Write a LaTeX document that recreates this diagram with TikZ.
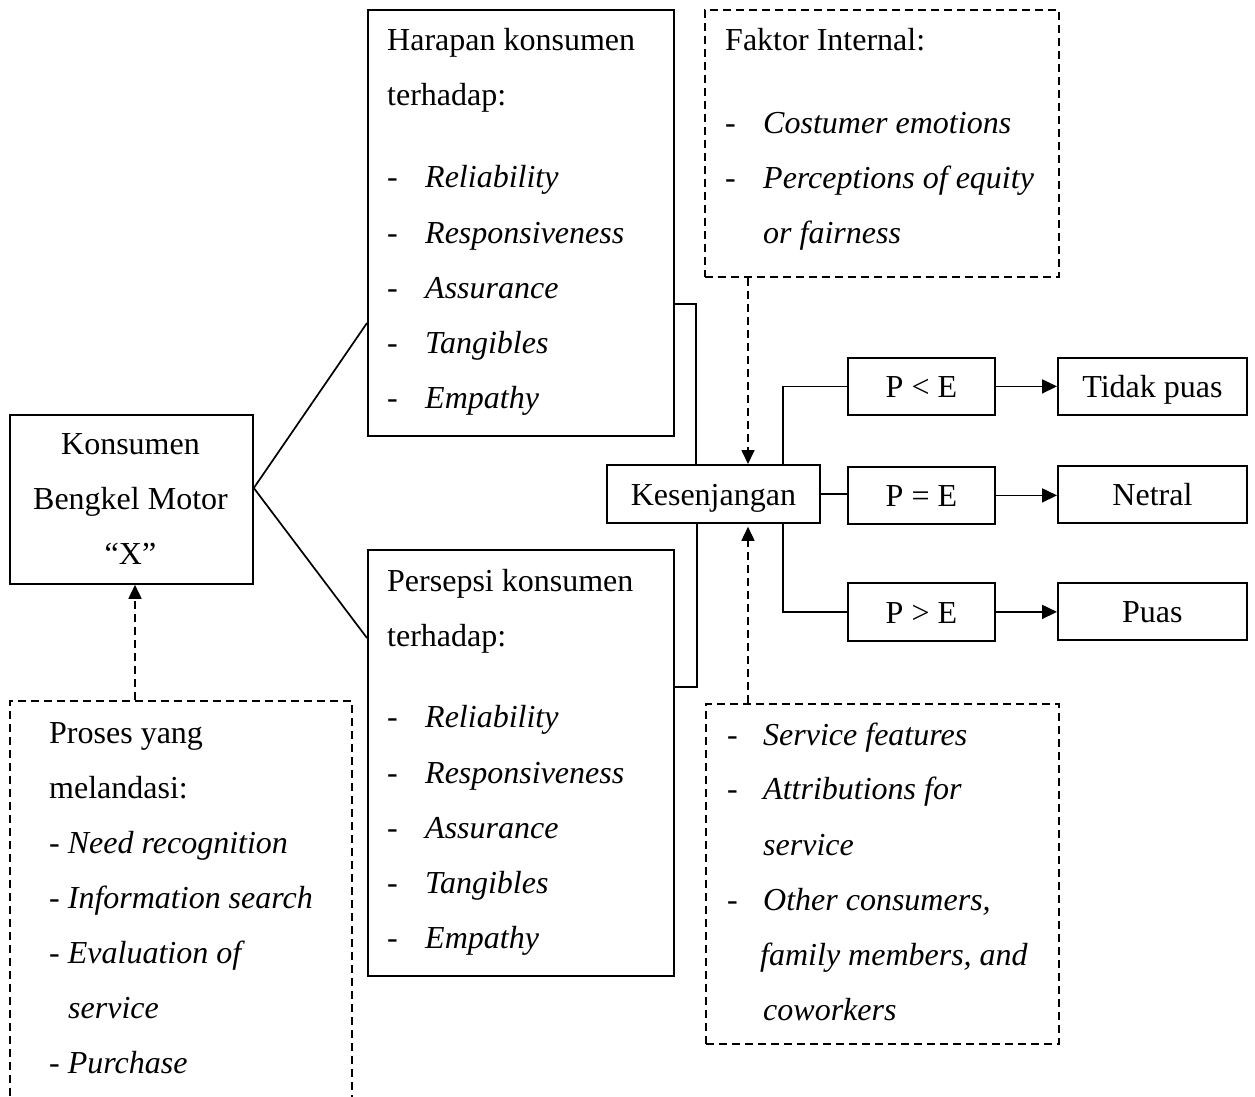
\documentclass[tikz,border=0pt]{standalone}
\usepackage{fontspec}
\setmainfont{Liberation Serif}
\usetikzlibrary{arrows.meta,calc}
\begin{document}
\begin{tikzpicture}[x=1pt,y=-1pt,
  every node/.style={font=\fontsize{32pt}{38pt}\selectfont},
  box/.style={draw, line width=1.8pt, inner sep=0pt, anchor=north west},
  dbox/.style={box, dash pattern=on 8pt off 5pt},
  one/.style={box, text height=26pt, text depth=3pt},
  txt/.style={anchor=base west, inner sep=0pt},
  ctxt/.style={anchor=base, inner sep=0pt},
  ln/.style={line width=1.7pt},
  dln/.style={line width=1.7pt, dash pattern=on 8pt off 5pt},
  arr/.style={-{Triangle[length=15pt,width=14pt]}},
  darr/.style={-{Triangle[length=14pt,width=13pt]}}]
\path[use as bounding box, clip] (0,0) rectangle (1255,1097);
\fill[white] (0,0) rectangle (1255,1097);

% Konsumen box
\node[box, minimum width=243pt, minimum height=169pt] (kons) at (9,414) {};
\node[ctxt] (k1) at (130.5,454) {Konsumen};
\node[ctxt] (k2) at (130.5,509) {Bengkel Motor};
\node[ctxt] (k3) at (130.5,564) {“X”};

% Harapan box
\node[box, minimum width=306pt, minimum height=426pt] (har) at (367,9) {};
\node[txt] (h1) at (387,51) {Harapan konsumen};
\node[txt] (h2) at (387,106) {terhadap:};
\node[txt] (h3) at (387,187) {\makebox[38pt][l]{-}\textit{Reliability}};
\node[txt] (h4) at (387,243) {\makebox[38pt][l]{-}\textit{Responsiveness}};
\node[txt] (h5) at (387,298) {\makebox[38pt][l]{-}\textit{Assurance}};
\node[txt] (h6) at (387,353) {\makebox[38pt][l]{-}\textit{Tangibles}};
\node[txt] (h7) at (387,408) {\makebox[38pt][l]{-}\textit{Empathy}};

% Persepsi box
\node[box, minimum width=306pt, minimum height=426pt] (per) at (367,549) {};
\node[txt] (p1) at (387,591) {Persepsi konsumen};
\node[txt] (p2) at (387,646) {terhadap:};
\node[txt] (p3) at (387,727) {\makebox[38pt][l]{-}\textit{Reliability}};
\node[txt] (p4) at (387,783) {\makebox[38pt][l]{-}\textit{Responsiveness}};
\node[txt] (p5) at (387,838) {\makebox[38pt][l]{-}\textit{Assurance}};
\node[txt] (p6) at (387,893) {\makebox[38pt][l]{-}\textit{Tangibles}};
\node[txt] (p7) at (387,948) {\makebox[38pt][l]{-}\textit{Empathy}};

% Faktor Internal box
\node[dbox, minimum width=354pt, minimum height=267pt] (fi) at (704,9) {};
\node[txt] (f1) at (725,51) {Faktor Internal:};
\node[txt] (f2) at (725,133) {\makebox[38pt][l]{-}\textit{Costumer emotions}};
\node[txt] (f3) at (725,188) {\makebox[38pt][l]{-}\textit{Perceptions of equity}};
\node[txt] (f4) at (763,243) {\textit{or fairness}};

% bottom right box
\node[dbox, minimum width=353pt, minimum height=340pt] (br) at (705,703) {};
\node[txt] (b1) at (727,745) {\makebox[36pt][l]{-}\textit{Service features}};
\node[txt] (b2) at (727,799) {\makebox[36pt][l]{-}\textit{Attributions for}};
\node[txt] (b3) at (763,855) {\textit{service}};
\node[txt] (b4) at (727,910) {\makebox[36pt][l]{-}\textit{Other consumers,}};
\node[txt] (b5) at (760,965) {\textit{family members, and}};
\node[txt] (b6) at (763,1020) {\textit{coworkers}};

% bottom left box
\node[dbox, minimum width=342pt, minimum height=450pt] (bl) at (9,700) {};
\node[txt] (l1) at (49,743) {Proses yang};
\node[txt] (l2) at (49,798) {melandasi:};
\node[txt] (l3) at (49,853) {- \textit{Need recognition}};
\node[txt] (l4) at (49,908) {- \textit{Information search}};
\node[txt] (l5) at (49,963) {- \textit{Evaluation of}};
\node[txt] (l6) at (68,1018) {\textit{service}};
\node[txt] (l7) at (49,1073) {- \textit{Purchase}};

% Kesenjangan
\node[one, minimum width=213pt, minimum height=58pt] (kes) at (606,464) {Kesenjangan};

% P boxes
\node[one, minimum width=147pt, minimum height=57pt] (plt) at (847,357) {P < E};
\node[one, minimum width=147pt, minimum height=57pt] (peq) at (847,466) {P = E};
\node[one, minimum width=147pt, minimum height=58pt] (pgt) at (847,582) {P > E};

% result boxes
\node[one, minimum width=189pt, minimum height=57pt] (tp) at (1057,357) {Tidak puas};
\node[one, minimum width=189pt, minimum height=57pt] (ne) at (1057,465) {Netral};
\node[one, minimum width=189pt, minimum height=57pt] (pu) at (1057,582) {Puas};

% helper coordinates
\coordinate (ax) at (748,0);
\coordinate (cx) at (135,0);

% connectors
\draw[ln] ($(kons.north east)+(0,74)$) -- ($(har.north west)+(0,314)$);
\draw[ln] ($(kons.north east)+(0,74)$) -- ($(per.north west)+(0,89)$);
\draw[ln] ($(har.north east)+(0,295)$) -| ($(kes.north west)+(90,0)$);
\draw[ln] ($(kes.south west)+(91,0)$) |- ($(per.north east)+(0,138)$);
\draw[ln] ($(kes.north west)+(177,0)$) |- (plt.west);
\draw[ln] ($(kes.south west)+(177,0)$) |- (pgt.west);
\draw[ln] (kes.east) -- (kes.east -| peq.west);
\draw[ln,arr] (plt.east) -- (plt.east -| tp.west);
\draw[ln,arr] (peq.east) -- (peq.east -| ne.west);
\draw[ln,arr] (pgt.east) -- (pgt.east -| pu.west);
\draw[dln,darr] (fi.south -| ax) -- (kes.north -| ax);
\draw[dln,darr] (br.north -| ax) -- ($(kes.south -| ax)+(0,3)$);
\draw[dln,darr] (bl.north -| cx) -- (kons.south -| cx);
\end{tikzpicture}
\end{document}
